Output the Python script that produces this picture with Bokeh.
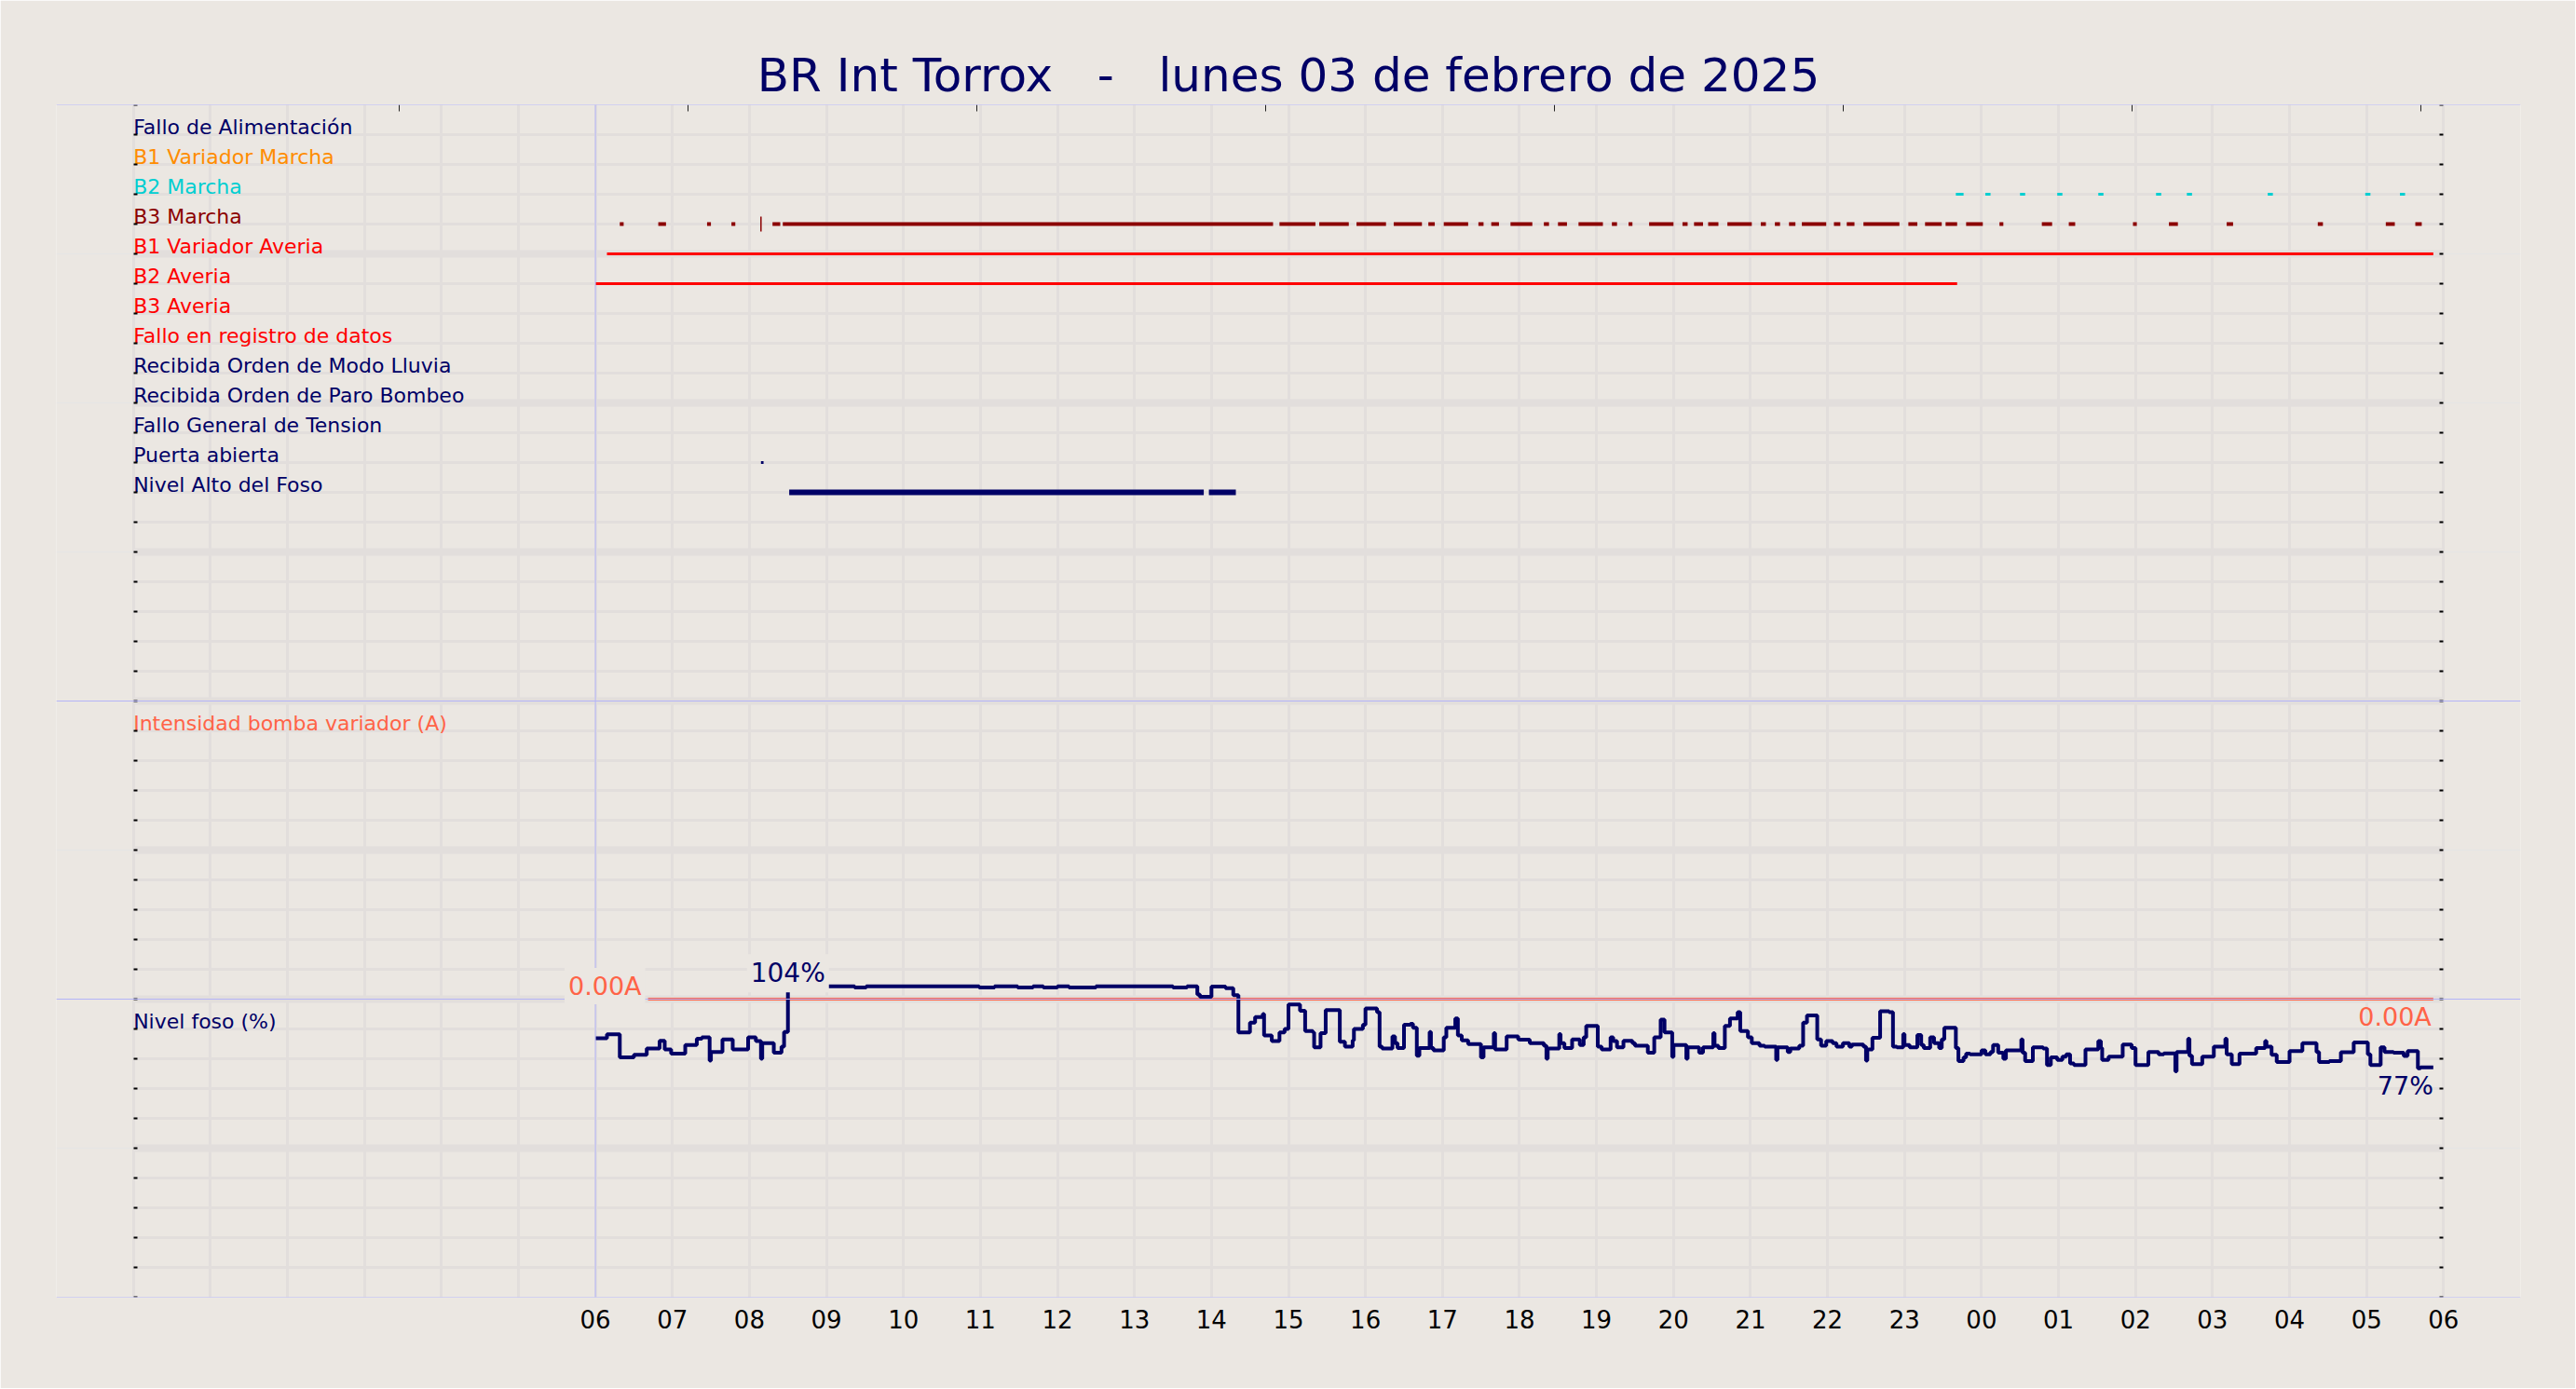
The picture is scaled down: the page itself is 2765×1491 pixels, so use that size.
import math
from bokeh.plotting import figure
from bokeh.models import (Range1d, LinearAxis, FixedTicker, Grid, Span,
                          Label, ColumnDataSource, CustomJSTickFormatter)
from bokeh.embed import file_html
from bokeh.resources import INLINE
from bokeh.core.properties import value

# ---------------- data ----------------
TITLE = "BR Int Torrox \u00a0 - \u00a0 lunes 03 de febrero de 2025"

x_tick_labels = ["06", "07", "08", "09", "10", "11", "12", "13", "14", "15", "16", "17",
                 "18", "19", "20", "21", "22", "23", "00", "01", "02", "03", "04", "05", "06"]

signal_names = ["Fallo de Alimentación", "B1 Variador Marcha", "B2 Marcha", "B3 Marcha",
                "B1 Variador Averia", "B2 Averia", "B3 Averia", "Fallo en registro de datos",
                "Recibida Orden de Modo Lluvia", "Recibida Orden de Paro Bombeo",
                "Fallo General de Tension", "Puerta abierta", "Nivel Alto del Foso"]

b2_marcha_start = ["23:40", "00:03", "00:30", "00:59", "01:31", "02:16", "02:40", "03:43", "04:59", "05:26"]
b2_marcha_end = ["23:46", "00:07", "00:34", "01:03", "01:35", "02:20", "02:44", "03:47", "05:03", "05:30"]

b3_marcha_start = ["06:19", "06:49", "07:27", "07:46", "08:18", "08:26", "14:53", "15:24", "15:53",
                   "16:22", "16:49", "17:01", "17:28", "17:38", "17:53", "18:19", "18:30", "18:46",
                   "19:12", "19:25", "19:41", "20:07", "20:16", "20:27", "20:42", "21:08", "21:19",
                   "21:30", "21:40", "22:05", "22:15", "22:28", "23:03", "23:16", "23:32", "23:48",
                   "00:14", "00:47", "01:08", "01:58", "02:26", "03:11", "04:22", "05:15", "05:38"]
b3_marcha_end = ["06:22", "06:55", "07:30", "07:49", "08:24", "14:48", "15:21", "15:47", "16:16",
                 "16:44", "16:54", "17:20", "17:32", "17:44", "18:10", "18:23", "18:37", "19:05",
                 "19:16", "19:28", "20:00", "20:11", "20:23", "20:35", "21:01", "21:12", "21:23",
                 "21:35", "21:59", "22:10", "22:21", "22:56", "23:10", "23:29", "23:41", "00:01",
                 "00:17", "00:55", "01:13", "02:01", "02:33", "03:16", "04:26", "05:22", "05:43"]
b3_marcha_events = ["08:09"]

b1_averia_start = ["06:09"]
b1_averia_end = ["05:52"]
b2_averia_start = ["06:00"]
b2_averia_end = ["23:41"]
puerta_start = ["08:09"]
puerta_end = ["08:11"]
nivel_alto_start = ["08:31", "13:58"]
nivel_alto_end = ["13:54", "14:19"]

intensity_times = ["06:41", "05:52"]
intensity_values = [0.0, 0.0]

level_times = [
    "06:00", "06:09", "06:19", "06:30", "06:40", "06:50", "06:54", "06:59", "07:10", "07:19",
    "07:23", "07:29", "07:30", "07:39", "07:47", "07:59", "08:05", "08:09", "08:10", "08:19",
    "08:25", "08:27", "08:30", "09:22", "09:31", "10:59", "11:11", "11:29", "11:41", "11:49",
    "12:00", "12:09", "12:30", "13:30", "13:41", "13:49", "13:51", "14:00", "14:11", "14:17",
    "14:21", "14:30", "14:34", "14:40", "14:41", "14:47", "14:53", "14:57", "15:00", "15:09",
    "15:13", "15:19", "15:20", "15:25", "15:29", "15:40", "15:44", "15:50", "15:51", "15:58",
    "16:00", "16:09", "16:11", "16:13", "16:21", "16:23", "16:25", "16:30", "16:35", "16:37",
    "16:40", "16:42", "16:50", "16:51", "16:53", "17:01", "17:03", "17:10", "17:12", "17:15",
    "17:20", "17:30", "17:32", "17:40", "17:41", "17:50", "17:59", "18:00", "18:08", "18:19",
    "18:21", "18:22", "18:31", "18:32", "18:35", "18:41", "18:47", "18:50", "18:52", "19:01",
    "19:04", "19:11", "19:13", "19:16", "19:21", "19:28", "19:30", "19:40", "19:45", "19:50",
    "19:53", "19:59", "20:00", "20:10", "20:11", "20:20", "20:23", "20:31", "20:32", "20:35",
    "20:40", "20:44", "20:50", "20:52", "20:58", "21:01", "21:07", "21:11", "21:20", "21:21",
    "21:29", "21:31", "21:38", "21:41", "21:44", "21:52", "21:55", "21:59", "22:04", "22:07",
    "22:12", "22:17", "22:19", "22:28", "22:30", "22:31", "22:35", "22:41", "22:48", "22:51",
    "22:54", "22:59", "23:00", "23:04", "23:10", "23:13", "23:15", "23:20", "23:23", "23:27",
    "23:29", "23:31", "23:40", "23:42", "23:46", "23:48", "23:51", "00:00", "00:03", "00:07",
    "00:09", "00:13", "00:17", "00:19", "00:31", "00:32", "00:34", "00:40", "00:48", "00:51",
    "00:54", "00:59", "01:03", "01:06", "01:09", "01:12", "01:21", "01:31", "01:33", "01:34",
    "01:39", "01:50", "01:57", "02:00", "02:10", "02:18", "02:22", "02:31", "02:32", "02:41",
    "02:42", "02:44", "02:52", "03:01", "03:10", "03:11", "03:15", "03:21", "03:34", "03:41",
    "03:42", "03:46", "03:50", "04:00", "04:10", "04:21", "04:23", "04:31", "04:40", "04:50",
    "05:01", "05:03", "05:11", "05:14", "05:21", "05:29", "05:32", "05:40", "05:42", "05:52"]
level_values = [
    86.9, 88.2, 80.5, 81.3, 83.4, 86.0, 83.1, 81.7, 84.6, 86.7,
    87.2, 79.4, 82.3, 86.5, 83.1, 87.2, 85.9, 80.0, 85.2, 82.0,
    84.1, 89.0, 104.3, 103.9, 104.3, 103.9, 104.3, 103.9, 104.3, 103.9,
    104.3, 103.9, 104.3, 103.9, 104.3, 101.6, 100.8, 104.2, 103.7, 101.3,
    88.8, 92.1, 94.0, 95.0, 87.8, 85.9, 88.8, 90.0, 98.2, 96.1,
    89.3, 88.8, 83.8, 88.6, 96.3, 85.7, 84.1, 86.2, 90.0, 91.4,
    96.9, 95.6, 84.1, 83.4, 87.5, 85.2, 83.6, 91.4, 91.7, 90.4,
    81.0, 83.6, 89.0, 83.6, 82.8, 87.2, 90.4, 93.5, 87.8, 86.2,
    84.9, 80.5, 83.8, 88.6, 83.1, 87.5, 86.5, 86.4, 85.2, 84.4,
    80.0, 83.4, 88.3, 85.2, 83.6, 86.5, 84.6, 87.2, 91.0, 84.1,
    83.1, 87.2, 85.9, 83.8, 86.0, 85.2, 84.4, 82.0, 87.2, 93.1,
    88.8, 80.6, 84.6, 80.0, 83.8, 82.0, 83.8, 88.6, 84.4, 83.6,
    91.0, 93.5, 95.6, 89.3, 87.2, 85.2, 84.4, 84.1, 79.6, 83.8,
    82.3, 83.4, 84.4, 92.1, 94.5, 86.5, 84.4, 85.9, 85.2, 84.1,
    85.2, 84.1, 84.8, 84.1, 79.4, 83.1, 87.0, 95.9, 95.6, 84.1,
    83.8, 88.3, 84.6, 83.8, 88.0, 84.6, 83.6, 87.2, 85.2, 83.6,
    86.5, 90.4, 83.6, 79.2, 80.5, 81.7, 81.5, 82.8, 81.5, 82.3,
    84.6, 82.0, 80.0, 82.8, 86.5, 82.0, 79.2, 83.8, 83.4, 77.9,
    80.5, 79.6, 80.7, 81.5, 78.4, 77.9, 83.1, 85.9, 83.6, 79.6,
    80.7, 84.8, 83.6, 77.9, 82.3, 81.5, 81.8, 75.8, 82.3, 86.7,
    81.0, 78.2, 80.7, 84.1, 86.7, 81.5, 78.2, 81.7, 83.6, 85.9,
    84.1, 81.3, 78.9, 82.6, 85.2, 82.3, 78.9, 79.2, 82.2, 85.5,
    81.5, 77.9, 83.8, 82.3, 82.0, 80.9, 82.6, 76.8, 77.1, 77.1]

# ---------------- style ----------------
BG = "#ebe7e2"
GRID = "#e2dedc"
LAV = "#b4b4f8"
NAVY = "#000066"
TOMATO = "#ff6347"
FONT = "DejaVu Sans"
signal_colors = [NAVY, "#ff8c00", "#00ced1", "#8b0000", "#ff0000", "#ff0000", "#ff0000",
                 "#ff0000", NAVY, NAVY, NAVY, NAVY, NAVY]
signal_widths = [4, 4, 3, 4, 3, 3, 3, 3, 4, 4, 4, 3, 6]
X0, X1 = 0, 30          # span of the day grid (hours from 00:00)


def hours(t):
    hh, mm = (int(s) for s in t.split(":"))
    h = hh + mm / 60.0
    return h + 24 if hh < 6 else h


p = figure(width=2764, height=1490, x_range=Range1d(X0 - 1, X1 + 1), y_range=Range1d(0, 40),
           output_backend="svg", toolbar_location=None, title=TITLE,
           x_axis_location=None, y_axis_location=None,
           min_border_left=60, min_border_right=59, min_border_top=112, min_border_bottom=98,
           background_fill_color=BG, border_fill_color=BG, outline_line_color=None)
p.extra_y_ranges = {"signals": Range1d(39, -1), "amps": Range1d(-10, 30), "level": Range1d(0, 400)}

p.title.align = "center"
p.title.text_font = FONT
p.title.text_font_size = "50px"
p.title.text_font_style = "normal"
p.title.text_color = NAVY
p.title.standoff = 6

blank = CustomJSTickFormatter(code="return ''")

# grids
p.add_layout(Grid(dimension=0, ticker=FixedTicker(ticks=list(range(X0, X1 + 1))),
                  grid_line_color=GRID, grid_line_width=3))
p.add_layout(Grid(dimension=1, ticker=FixedTicker(ticks=list(range(41))), cross_bounds=(X0, X1),
                  grid_line_color=GRID, grid_line_width=3))
p.add_layout(Grid(dimension=1, ticker=FixedTicker(ticks=list(range(0, 41, 5))), cross_bounds=(X0, X1),
                  grid_line_color=GRID, grid_line_width=8))

# axes
xb = LinearAxis(ticker=FixedTicker(ticks=list(range(6, 31))),
                major_label_overrides={h: lab for h, lab in zip(range(6, 31), x_tick_labels)},
                axis_line_color=None, major_tick_line_color=None, minor_tick_line_color=None,
                major_label_standoff=7, major_label_text_font=FONT,
                major_label_text_font_size="26px", major_label_text_color="black")
p.add_layout(xb, "below")
xt = LinearAxis(ticker=FixedTicker(ticks=[3.45 + 3.75 * k for k in range(8)]), formatter=blank,
                axis_line_color=None, major_tick_in=7, major_tick_out=0, major_tick_line_width=1,
                major_tick_line_color="#222222", minor_tick_line_color=None,
                major_label_standoff=0, major_label_text_font_size="1px")
p.add_layout(xt, "above")
for loc, fx in (("left", X0), ("right", X1)):
    ya = LinearAxis(ticker=FixedTicker(ticks=list(range(41))), formatter=blank, fixed_location=fx,
                    axis_line_color=None, major_tick_in=4, major_tick_out=0, major_tick_line_width=2,
                    major_tick_line_color="black", minor_tick_line_color=None,
                    major_label_standoff=0, major_label_text_font_size="1px")
    p.add_layout(ya, loc)

# intensity line (under the blue frame lines)
p.line(x=[hours(t) for t in intensity_times], y=intensity_values, y_range_name="amps",
       line_color=TOMATO, line_width=3)

# level line
level_x = [hours(t) for t in level_times]
p.step(x=level_x, y=level_values, mode="after", y_range_name="level",
       line_color=NAVY, line_width=4)

# digital signals
signal_segments = {
    2: (b2_marcha_start, b2_marcha_end),
    3: (b3_marcha_start, b3_marcha_end),
    4: (b1_averia_start, b1_averia_end),
    5: (b2_averia_start, b2_averia_end),
    11: (puerta_start, puerta_end),
    12: (nivel_alto_start, nivel_alto_end),
}
for i, (st, en) in signal_segments.items():
    src = ColumnDataSource(dict(x0=[hours(t) for t in st], x1=[hours(t) for t in en],
                                y=[i] * len(st)))
    p.segment(x0="x0", y0="y", x1="x1", y1="y", source=src, y_range_name="signals",
              line_color=signal_colors[i], line_width=signal_widths[i], line_cap="butt")
p.scatter(x=[hours(t) for t in b3_marcha_events], y=[3] * len(b3_marcha_events),
          y_range_name="signals", marker="dash", angle=math.pi / 2, size=16,
          line_color=signal_colors[3], line_width=1.5)

# signal labels
lab_src = ColumnDataSource(dict(x=[X0] * len(signal_names), y=list(range(len(signal_names))),
                                t=signal_names, c=signal_colors))
p.text(x="x", y="y", text="t", text_color="c", source=lab_src, y_range_name="signals",
       text_font=value(FONT), text_font_size="22px", text_baseline="alphabetic",
       text_align="left", y_offset=-8)
p.text(x=[X0, X0], y=[19, 9], text=["Intensidad bomba variador (A)", "Nivel foso (%)"],
       text_color=[TOMATO, NAVY], text_font=value(FONT), text_font_size="22px",
       text_baseline="alphabetic", text_align="left", y_offset=-8)

# blue frame lines
for yb in (0, 10, 20, 40):
    p.add_layout(Span(location=yb, dimension="width", line_color=LAV, line_width=1))
p.add_layout(Span(location=hours(level_times[0]), dimension="height", line_color=LAV, line_width=1))

# value labels
imax = max(range(len(level_values)), key=lambda k: level_values[k])
p.add_layout(Label(x=level_x[imax], y=level_values[imax], y_range_name="level",
                   text=f"{level_values[imax]:.0f}%", text_align="center", text_baseline="alphabetic",
                   y_offset=14, text_font=FONT, text_font_size="28px", text_color=NAVY,
                   background_fill_color=BG, padding=4))
p.add_layout(Label(x=level_x[-1], y=level_values[-1], y_range_name="level",
                   text=f"{level_values[-1]:.0f}%", text_align="right", text_baseline="top",
                   y_offset=-4, text_font=FONT, text_font_size="27px", text_color=NAVY))
ix = [hours(t) for t in intensity_times]
p.add_layout(Label(x=ix[0], y=intensity_values[0], y_range_name="amps",
                   text=f"{intensity_values[0]:.2f}A", text_align="right", text_baseline="alphabetic",
                   x_offset=-3, y_offset=14, text_font=FONT, text_font_size="27px", text_color=TOMATO,
                   background_fill_color=BG, padding=4))
p.add_layout(Label(x=ix[-1], y=intensity_values[-1], y_range_name="amps",
                   text=f"{intensity_values[-1]:.2f}A", text_align="right", text_baseline="top",
                   x_offset=-2, y_offset=-3, text_font=FONT, text_font_size="27px", text_color=TOMATO))

open("out.html", "w").write(file_html(p, INLINE))
